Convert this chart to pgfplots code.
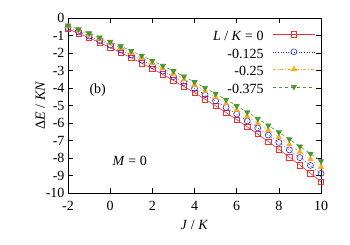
\documentclass[border=0pt]{standalone}
\usepackage{fontspec}
\setmainfont{Liberation Serif}
\usepackage{pgfplots}
\pgfplotsset{compat=1.18}
\definecolor{cred}{RGB}{238,48,48}
\definecolor{cblue}{RGB}{40,40,235}
\definecolor{corange}{RGB}{252,172,30}
\definecolor{cgreen}{RGB}{70,150,50}
\begin{document}
\begin{tikzpicture}
\begin{axis}[
  name=ax,
  scale only axis, width=253pt, height=175pt,
  xmin=-2, xmax=10, ymin=-10, ymax=0,
  xtick={-2,0,...,10}, ytick={-10,-9,...,0},
  tick align=inside, major tick length=5pt,
  every tick/.style={black, line width=0.6pt},
  axis line style={line width=0.8pt},
  /pgf/number format/assume math mode=true,
  tick label style={font=\fontsize{14}{14}\selectfont},
  xticklabel style={yshift=-5pt},
  xlabel={\textit{J} / \textit{K}},
  ylabel={Δ\textit{E} / \textit{KN}},
  label style={font=\fontsize{14}{14}\selectfont},
  xlabel style={yshift=-2pt},
  ylabel style={yshift=-6pt},
  legend cell align=right,
  legend plot pos=right,
  legend style={draw=none, fill=none, font=\fontsize{14}{14}\selectfont,
    inner sep=0pt, outer sep=0pt,
    nodes={inner sep=0pt, text height=10pt, text depth=3.5pt},
    at={(0.977,0.928)}, anchor=north east, row sep=4pt,
    /tikz/every odd column/.append style={column sep=9pt}},
  legend image code/.code={\draw[mark repeat=2,mark phase=2] plot coordinates {(0pt,3pt)(21pt,3pt)(42pt,3pt)};},
  every axis plot/.append style={line width=0.6pt, mark size=3pt},
]
\addplot[cred, solid, mark=square, mark options={solid, scale=0.9}] coordinates {
(-2,-0.630)(-1.5,-0.879)(-1,-1.137)(-0.5,-1.406)(0,-1.684)(0.5,-1.973)(1,-2.271)(1.5,-2.580)(2,-2.898)(2.5,-3.227)(3,-3.565)(3.5,-3.914)(4,-4.272)(4.5,-4.641)(5,-5.019)(5.5,-5.408)(6,-5.806)(6.5,-6.215)(7,-6.633)(7.5,-7.062)(8,-7.500)(8.5,-7.949)(9,-8.407)(9.5,-8.876)(10,-9.354)};
\addlegendentry{\textit{L} / \textit{K} = 0}
\addplot[cblue, dotted, mark=o, mark options={solid}] coordinates {
(-2,-0.550)(-1.5,-0.787)(-1,-1.034)(-0.5,-1.290)(0,-1.556)(0.5,-1.832)(1,-2.117)(1.5,-2.411)(2,-2.716)(2.5,-3.029)(3,-3.352)(3.5,-3.685)(4,-4.027)(4.5,-4.379)(5,-4.741)(5.5,-5.112)(6,-5.492)(6.5,-5.882)(7,-6.282)(7.5,-6.691)(8,-7.110)(8.5,-7.538)(9,-7.976)(9.5,-8.423)(10,-8.880)};
\addlegendentry{-0.125}
\addplot[corange, dash dot, mark=triangle*, mark options={solid}] coordinates {
(-2,-0.480)(-1.5,-0.709)(-1,-0.947)(-0.5,-1.195)(0,-1.451)(0.5,-1.717)(1,-1.992)(1.5,-2.277)(2,-2.570)(2.5,-2.873)(3,-3.185)(3.5,-3.506)(4,-3.837)(4.5,-4.176)(5,-4.525)(5.5,-4.883)(6,-5.250)(6.5,-5.627)(7,-6.012)(7.5,-6.407)(8,-6.811)(8.5,-7.225)(9,-7.647)(9.5,-8.079)(10,-8.520)};
\addlegendentry{-0.25}
\addplot[cgreen, dashed, mark=triangle*, mark options={solid, rotate=180}] coordinates {
(-2,-0.420)(-1.5,-0.641)(-1,-0.871)(-0.5,-1.110)(0,-1.358)(0.5,-1.614)(1,-1.880)(1.5,-2.154)(2,-2.437)(2.5,-2.730)(3,-3.031)(3.5,-3.341)(4,-3.660)(4.5,-3.987)(5,-4.324)(5.5,-4.670)(6,-5.024)(6.5,-5.387)(7,-5.760)(7.5,-6.141)(8,-6.531)(8.5,-6.930)(9,-7.338)(9.5,-7.754)(10,-8.180)};
\addlegendentry{-0.375}
\node[font=\fontsize{14}{14}\selectfont] at (axis cs:-0.59,-4.1) {(b)};
\node[font=\fontsize{14}{14}\selectfont] at (axis cs:0.93,-8.15) {\textit{M} = 0};
\end{axis}
\pgfresetboundingbox
\path[use as bounding box] ([shift={(-68pt,-52pt)}]ax.south west) rectangle ([shift={(29pt,18pt)}]ax.north east);
\end{tikzpicture}
\end{document}
